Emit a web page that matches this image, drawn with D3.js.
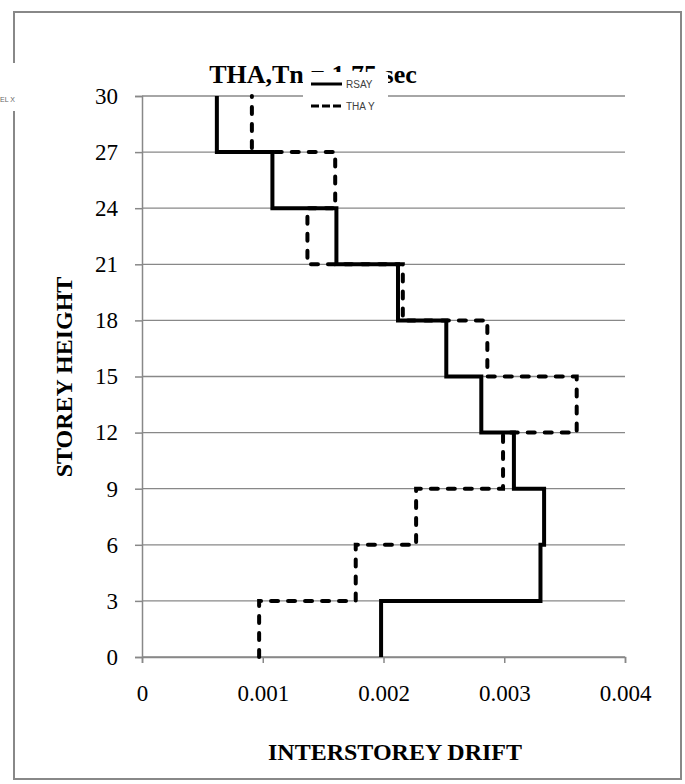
<!DOCTYPE html>
<html>
<head>
<meta charset="utf-8">
<script src="https://cdn.jsdelivr.net/npm/d3@7"></script>
<style>
  body { margin: 0; background: #fff; }
  svg { display: block; }
</style>
</head>
<body>
<svg id="plot" width="685" height="784"></svg>
<script>

// Storey levels (y) and drift per storey band, bottom band first.

const LEVELS = [0, 3, 6, 9, 12, 15, 18, 21, 24, 27, 30];
const X_TICKS = [0, 0.001, 0.002, 0.003, 0.004];

const RSAY = [0.00198, 0.00330, 0.00333, 0.00308, 0.00281, 0.00252, 0.00212, 0.00161, 0.00108, 0.00062];
const THAY = [0.00097, 0.00177, 0.00227, 0.00299, 0.00360, 0.00286, 0.00216, 0.00137, 0.00160, 0.00091];

const TITLE = "THA,Tn = 1.75 sec";

const svg = d3.select("#plot");

// Plot margins.

const margin = {
    "L": 142,
    "R": 625,
    "T": 96,
    "B": 657,
};

const grey = "#888888";
const serif = "'Liberation Serif', 'Times New Roman', serif";

// Outer chart border.

svg.append("rect")
    .attr("x", 14)
    .attr("y", 12)
    .attr("width", 667)
    .attr("height", 767)
    .attr("fill", "none")
    .attr("stroke", grey)
    .attr("stroke-width", 2);

//----------------------------------------------------------------------------//
//                                    AXES                                    //
//----------------------------------------------------------------------------//

const xScale = d3.scaleLinear()
    .domain([0, 0.004])
    .range([margin.L, margin.R]);

const yScale = d3.scaleLinear()
    .domain([0, 30])
    .range([margin.B, margin.T]);

// Horizontal gridlines.

svg.append("g")
    .selectAll("line")
    .data(LEVELS)
    .join("line")
        .attr("x1", margin.L)
        .attr("x2", margin.R)
        .attr("y1", d => yScale(d))
        .attr("y2", d => yScale(d))
        .attr("stroke", grey)
        .attr("stroke-width", 1.3);

const yAxis = d3.axisLeft(yScale)
    .tickValues(LEVELS)
    .tickSize(7)
    .tickPadding(17)
    .tickFormat(d3.format("d"));

const yAx = svg.append("g")
    .attr("transform", `translate(${margin.L}, 0)`)
    .call(yAxis);

const xAxis = d3.axisBottom(xScale)
    .tickValues(X_TICKS)
    .tickSize(6)
    .tickPadding(22)
    .tickFormat(d => d === 0 ? "0" : d3.format(".3f")(d));

const xAx = svg.append("g")
    .attr("transform", `translate(0, ${margin.B})`)
    .call(xAxis);

[xAx, yAx].forEach(ax => {
    ax.select(".domain").attr("stroke", grey).attr("stroke-width", 1.5);
    ax.selectAll(".tick line").attr("stroke", grey).attr("stroke-width", 1.5);
    ax.selectAll(".tick text")
        .attr("fill", "#000")
        .style("font-family", serif)
        .style("font-size", "23px");
});

// Axis titles.

svg.append("text")
    .attr("x", 395)
    .attr("y", 760)
    .attr("text-anchor", "middle")
    .style("font-family", serif)
    .style("font-weight", "bold")
    .style("font-size", "24px")
    .text("INTERSTOREY DRIFT");

svg.append("text")
    .attr("transform", "translate(72, 377) rotate(-90)")
    .attr("text-anchor", "middle")
    .style("font-family", serif)
    .style("font-weight", "bold")
    .style("font-size", "24px")
    .text("STOREY HEIGHT");

// Chart title (partly hidden under the legend).

svg.append("text")
    .attr("x", 313)
    .attr("y", 83)
    .attr("text-anchor", "middle")
    .style("font-family", serif)
    .style("font-weight", "bold")
    .style("font-size", "26px")
    .text(TITLE);

//----------------------------------------------------------------------------//
//                                    PLOT                                    //
//----------------------------------------------------------------------------//

// Turn band drifts into a vertical step profile.
function profile(drifts) {
    const pts = [];
    drifts.forEach((v, i) => {
        pts.push({ "x": v, "y": LEVELS[i] });
        pts.push({ "x": v, "y": LEVELS[i + 1] });
    });
    return pts;
};

const line = d3.line()
    .x(d => xScale(d.x))
    .y(d => yScale(d.y));

const series = [
    { "name": "RSAY", "values": RSAY, "dash": null },
    { "name": "THA Y", "values": THAY, "dash": "7,10" },
];

svg.selectAll("path.series")
    .data(series)
    .join("path")
        .attr("class", "series")
        .attr("d", d => line(profile(d.values)))
        .attr("fill", "none")
        .attr("stroke", "#000")
        .attr("stroke-width", 4)
        .attr("stroke-linejoin", "miter")
        .attr("stroke-linecap", d => d.dash ? "round" : "butt")
        .attr("stroke-dasharray", d => d.dash);

//----------------------------------------------------------------------------//
//                                   LEGEND                                   //
//----------------------------------------------------------------------------//

svg.append("rect")
    .attr("x", 303)
    .attr("y", 72)
    .attr("width", 85)
    .attr("height", 48)
    .attr("fill", "#fff");

const leg = svg.append("g")
    .selectAll("g")
    .data(series)
    .join("g")
        .attr("transform", (d, i) => `translate(311, ${84 + i * 22})`);

leg.append("line")
    .attr("x1", 0)
    .attr("x2", 31)
    .attr("stroke", "#000")
    .attr("stroke-width", 3)
    .attr("stroke-dasharray", d => d.dash ? "8,3" : null);

leg.append("text")
    .attr("x", 35)
    .attr("y", 4)
    .style("font-family", "'Liberation Sans', Arial, sans-serif")
    .style("font-size", "10px")
    .attr("fill", "#404040")
    .text(d => d.name);

// Clipped legend label from a neighbouring chart on the left border.

svg.append("rect")
    .attr("x", 0)
    .attr("y", 63)
    .attr("width", 20)
    .attr("height", 48)
    .attr("fill", "#fff");

svg.append("text")
    .attr("x", 0)
    .attr("y", 102)
    .style("font-family", "'Liberation Sans', Arial, sans-serif")
    .style("font-size", "7px")
    .attr("fill", "#666")
    .text("EL X");

</script>
</body>
</html>
